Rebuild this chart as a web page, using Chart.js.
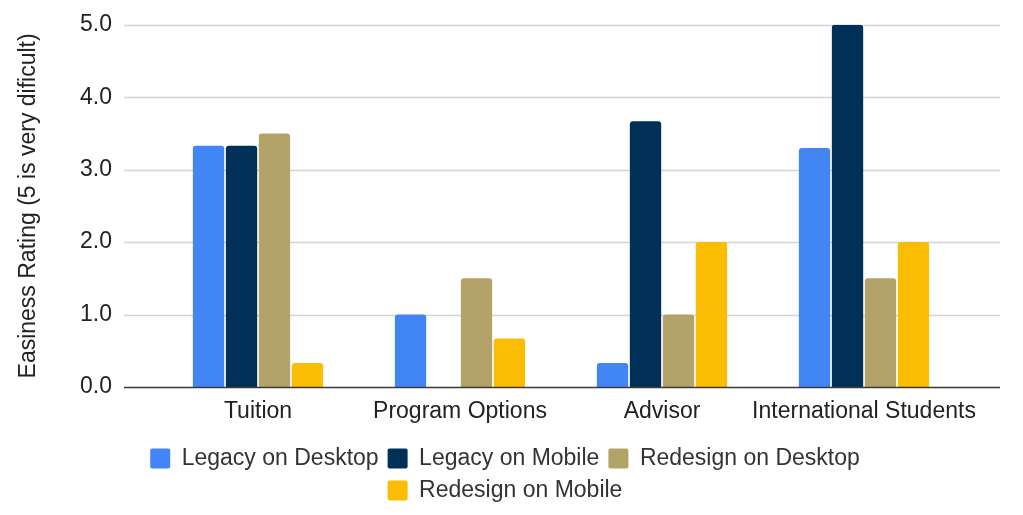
<!DOCTYPE html>
<html>
<head>
<meta charset="utf-8">
<script src="https://cdn.jsdelivr.net/npm/chart.js@4.4.1/dist/chart.umd.min.js"></script>
<style>
  html, body { margin: 0; padding: 0; background: #fff; }
  #wrap { width: 1023px; height: 515px; }
</style>
</head>
<body>
<div id="wrap"><canvas id="chart"></canvas></div>
<script>
const categories = ["Tuition", "Program Options", "Advisor", "International Students"];
const legacyDesktop = [3.33, 1.0, 0.33, 3.3];
const legacyMobile = [3.33, null, 3.67, 5.0];
const redesignDesktop = [3.5, 1.5, 1.0, 1.5];
const redesignMobile = [0.33, 0.67, 2.0, 2.0];
const yMin = 0;
const yMax = 5;
const yStep = 1;

const font = { family: "'Liberation Sans', Arial, sans-serif", size: 23 };
const textColor = "#222";

// grid lines run past the category area on both sides, like the original
function drawGridLines(chart, zeroOnly) {
  const { ctx, chartArea, scales } = chart;
  const y = scales.y;
  ctx.save();
  y.ticks.forEach((t) => {
    if ((t.value === 0) !== zeroOnly) return;
    const py = Math.round(y.getPixelForValue(t.value)) + 0.5;
    ctx.beginPath();
    ctx.strokeStyle = zeroOnly ? "#3a3a3a" : "#d3d3d3";
    ctx.lineWidth = zeroOnly ? 1.6 : 1.5;
    ctx.moveTo(chartArea.left - 33, py);
    ctx.lineTo(chartArea.right + 35, py);
    ctx.stroke();
  });
  ctx.restore();
}

const wideGrid = {
  id: "wideGrid",
  beforeDatasetsDraw(chart) { drawGridLines(chart, false); },
  afterDatasetsDraw(chart) { drawGridLines(chart, true); },
};

const barStyle = {
  barPercentage: 0.95,
  categoryPercentage: 0.653,
  borderRadius: 3,
};

new Chart(document.getElementById("chart"), {
  type: "bar",
  data: {
    labels: categories,
    datasets: [
      { label: "Legacy on Desktop", data: legacyDesktop, backgroundColor: "#4285f4", ...barStyle },
      { label: "Legacy on Mobile", data: legacyMobile, backgroundColor: "#003057", ...barStyle },
      { label: "Redesign on Desktop", data: redesignDesktop, backgroundColor: "#b3a369", ...barStyle },
      { label: "Redesign on Mobile", data: redesignMobile, backgroundColor: "#fbbc04", ...barStyle },
    ],
  },
  plugins: [wideGrid],
  options: {
    responsive: true,
    maintainAspectRatio: false,
    animation: false,
    layout: { padding: { left: 45, right: 58, top: 24, bottom: 3 } },
    plugins: {
      tooltip: { enabled: false },
      legend: {
        position: "bottom",
        labels: {
          font,
          color: "#333",
          boxWidth: 20,
          boxHeight: 20,
          padding: 9,
          useBorderRadius: true,
          borderRadius: 2,
        },
      },
    },
    scales: {
      x: {
        grid: { display: false, drawTicks: false },
        border: { display: false },
        ticks: { font, color: textColor, padding: 11, maxRotation: 0, autoSkip: false },
        afterFit(scale) { scale.height = 51; },
      },
      y: {
        min: yMin,
        max: yMax,
        // hidden tick marks still push the labels out to the left
        grid: { display: false, drawTicks: true, tickLength: 34 },
        border: { display: false },
        ticks: {
          stepSize: yStep,
          font,
          color: textColor,
          padding: 11,
          callback: (v) => Number(v).toFixed(1),
        },
        title: {
          display: true,
          text: "Easiness Rating (5 is very dificult)",
          font,
          color: textColor,
          // pull the title back toward the canvas edge
          padding: { top: -30, bottom: 0 },
        },
        afterFit(scale) { scale.width = 112; },
      },
    },
  },
});
</script>
</body>
</html>
